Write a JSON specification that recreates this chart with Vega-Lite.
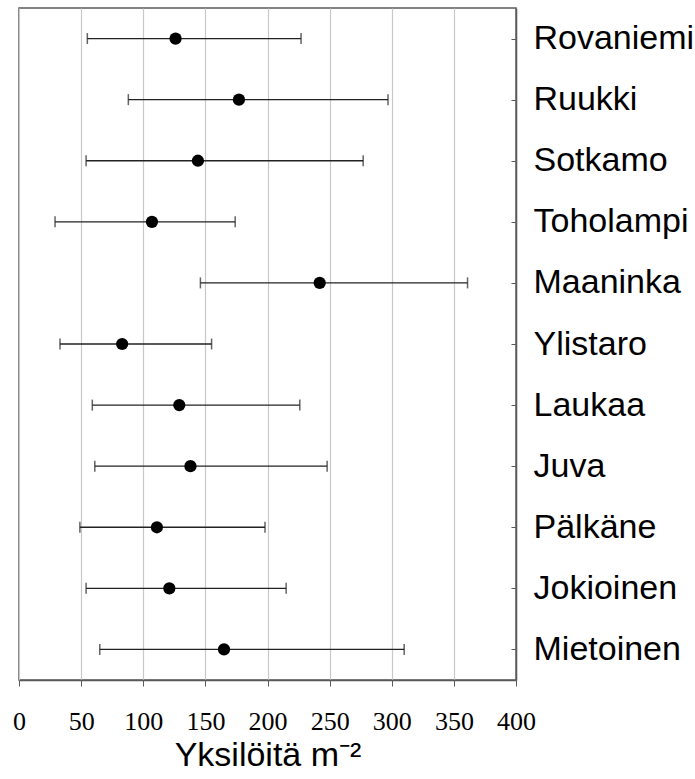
{
  "$schema": "https://vega.github.io/schema/vega-lite/v6.json",
  "width": 497,
  "height": 672,
  "autosize": {"type": "none"},
  "padding": {"left": 19, "top": 8, "right": 179, "bottom": 99},
  "background": "white",
  "config": {
    "view": {"stroke": "#5a5a5a", "strokeWidth": 1.5},
    "axis": {"domainColor": "#5a5a5a", "tickColor": "#5a5a5a", "labelColor": "black", "titleColor": "black"}
  },
  "data": {
    "values": [
      {"site": "Rovaniemi", "mean": 126, "low": 55, "high": 227},
      {"site": "Ruukki", "mean": 177, "low": 88, "high": 297},
      {"site": "Sotkamo", "mean": 144, "low": 54, "high": 277},
      {"site": "Toholampi", "mean": 107, "low": 29, "high": 174},
      {"site": "Maaninka", "mean": 242, "low": 146, "high": 361},
      {"site": "Ylistaro", "mean": 83, "low": 33, "high": 155},
      {"site": "Laukaa", "mean": 129, "low": 59, "high": 226},
      {"site": "Juva", "mean": 138, "low": 61, "high": 248},
      {"site": "Pälkäne", "mean": 111, "low": 49, "high": 198},
      {"site": "Jokioinen", "mean": 121, "low": 54, "high": 215},
      {"site": "Mietoinen", "mean": 165, "low": 65, "high": 310}
    ]
  },
  "encoding": {
    "y": {
      "field": "site",
      "type": "nominal",
      "sort": null,
      "scale": {"type": "point", "padding": 0.5},
      "axis": {
        "orient": "right",
        "title": null,
        "grid": false,
        "tickSize": -5,
        "labelPadding": 22,
        "labelFont": "Liberation Sans",
        "labelFontSize": 34,
        "labelAlign": "left",
        "labelBaseline": "middle",
        "domainWidth": 1.5
      }
    }
  },
  "layer": [
    {
      "mark": {"type": "rule", "color": "#222", "strokeWidth": 1.3},
      "encoding": {
        "x": {
          "field": "low",
          "type": "quantitative",
          "scale": {"domain": [0, 400], "nice": false},
          "axis": {
            "values": [0, 50, 100, 150, 200, 250, 300, 350, 400],
            "grid": true,
            "gridColor": "#c8c8c8",
            "gridWidth": 1.2,
            "tickSize": 6,
            "domainWidth": 1.5,
            "labelFont": "Liberation Serif",
            "labelFontSize": 26,
            "labelPadding": 22,
            "labelFlush": false,
            "labelOverlap": false,
            "title": "Yksilöitä m⁻²",
            "titleFont": "Liberation Sans",
            "titleFontSize": 34,
            "titleFontWeight": "normal",
            "titlePadding": 4
          }
        },
        "x2": {"field": "high"}
      }
    },
    {
      "mark": {"type": "tick", "color": "#222", "thickness": 1.5, "size": 11, "orient": "vertical"},
      "encoding": {"x": {"field": "low", "type": "quantitative"}}
    },
    {
      "mark": {"type": "tick", "color": "#222", "thickness": 1.5, "size": 11, "orient": "vertical"},
      "encoding": {"x": {"field": "high", "type": "quantitative"}}
    },
    {
      "mark": {"type": "point", "filled": true, "color": "black", "opacity": 1, "size": 150, "shape": "circle"},
      "encoding": {"x": {"field": "mean", "type": "quantitative"}}
    }
  ]
}
